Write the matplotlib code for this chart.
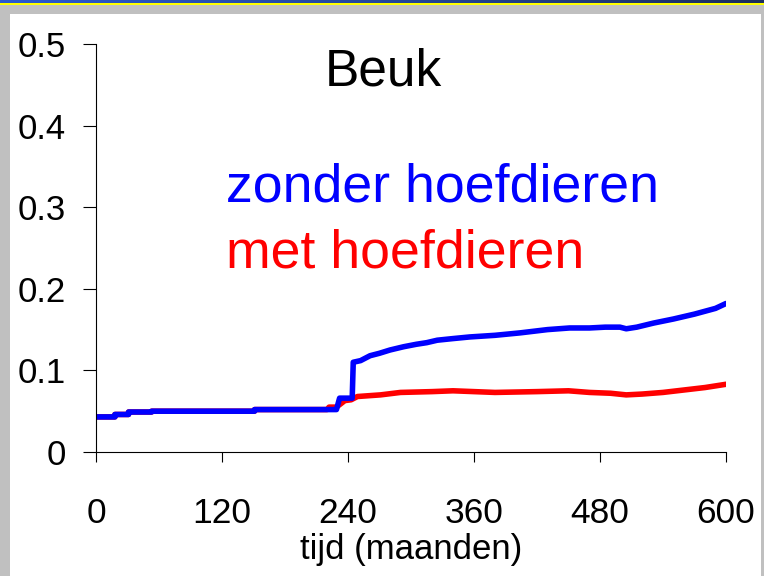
import matplotlib.pyplot as plt
import numpy as np
from matplotlib.patches import Rectangle

plt.rcParams['font.family'] = ['Liberation Sans', 'DejaVu Sans']

# gegevens
maanden_zonder = [0, 18, 18, 31, 31, 53, 53, 151, 151, 229, 232, 244, 245, 252, 261, 270, 280,
                  293, 305, 315, 325, 340, 356, 380, 404, 430, 451, 470, 485, 499, 505, 515,
                  531, 550, 570, 590, 600]
waarde_zonder = [0.043, 0.043, 0.046, 0.046, 0.049, 0.049, 0.050, 0.050, 0.052, 0.052, 0.066,
                 0.066, 0.110, 0.112, 0.118, 0.121, 0.125, 0.129, 0.132, 0.134, 0.137, 0.139,
                 0.141, 0.143, 0.146, 0.150, 0.152, 0.152, 0.153, 0.153, 0.151, 0.153, 0.158,
                 0.163, 0.169, 0.176, 0.182]

maanden_met = [0, 18, 18, 31, 31, 53, 53, 151, 151, 220, 222, 229, 237, 243, 249, 271, 290,
               320, 340, 360, 380, 420, 450, 470, 490, 505, 520, 540, 560, 580, 600]
waarde_met = [0.043, 0.043, 0.046, 0.046, 0.049, 0.049, 0.050, 0.050, 0.052, 0.052, 0.055,
              0.055, 0.063, 0.064, 0.068, 0.070, 0.073, 0.074, 0.075, 0.074, 0.073, 0.074,
              0.075, 0.073, 0.072, 0.070, 0.071, 0.073, 0.076, 0.079, 0.083]

x_ticks = [0, 120, 240, 360, 480, 600]
y_ticks = [0, 0.1, 0.2, 0.3, 0.4, 0.5]
y_labels = ['0', '0.1', '0.2', '0.3', '0.4', '0.5']

fig = plt.figure(figsize=(7.64, 5.76), dpi=100)
fig.patch.set_facecolor('#c0c0c0')

# witte achtergrond en balk bovenaan
fig.patches.append(Rectangle((10 / 764, 0), 751 / 764, 562 / 576, transform=fig.transFigure,
                             facecolor='white', edgecolor='none', zorder=-5))
fig.patches.append(Rectangle((0, 571 / 576), 1, 2 / 576, transform=fig.transFigure,
                             facecolor='#ffff00', edgecolor='none', zorder=-5))
bar = fig.add_axes([0, 573 / 576, 1, 3 / 576])
bar.imshow(np.linspace(0, 1, 256).reshape(1, -1), aspect='auto',
           cmap=plt.matplotlib.colors.LinearSegmentedColormap.from_list(
               'balk', ['#2a5ad0', '#24489a', '#1c2f5c']))
bar.axis('off')

ax = fig.add_axes([96 / 764, 124 / 576, 630 / 764, 408 / 576])
ax.set_facecolor('none')
ax.set_zorder(3)

ax.plot(maanden_met, waarde_met, color='#ff0000', lw=4,
        solid_capstyle='round', solid_joinstyle='round')
ax.plot(maanden_zonder, waarde_zonder, color='#0000ff', lw=4,
        solid_capstyle='round', solid_joinstyle='round')

ax.set_xlim(0, 600)
ax.set_ylim(0, 0.5)
ax.set_xticks(x_ticks)
ax.set_yticks(y_ticks)
ax.set_yticklabels(y_labels)
ax.spines['top'].set_visible(False)
ax.spines['right'].set_visible(False)
for s in ['left', 'bottom']:
    ax.spines[s].set_linewidth(0.8)
ax.tick_params(axis='x', direction='out', length=7.5, width=0.8, pad=25, labelsize=25.5)
ax.tick_params(axis='y', direction='out', length=9.5, width=0.8, pad=12, labelsize=25)
ax.set_xlabel('tijd (maanden)', fontsize=25, labelpad=2)

fig.text(325 / 764, (576 - 86) / 576, 'Beuk', fontsize=37, color='black',
         ha='left', va='baseline')
fig.text(226 / 764, (576 - 201) / 576, 'zonder hoefdieren', fontsize=38.6, color='#0000ff',
         ha='left', va='baseline')
fig.text(226 / 764, (576 - 268) / 576, 'met hoefdieren', fontsize=38.6, color='#ff0000',
         ha='left', va='baseline')

fig.savefig('out.png', dpi=100, facecolor=fig.get_facecolor())
